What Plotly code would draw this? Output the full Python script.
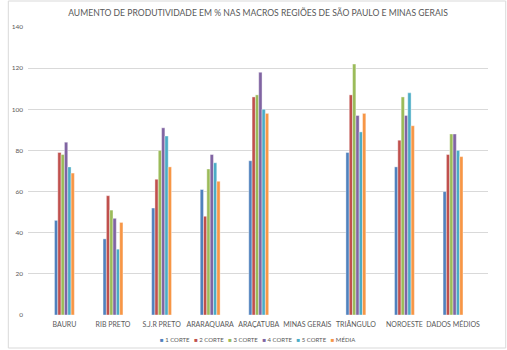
import plotly.graph_objects as go

categories = ["BAURU", "RIB PRETO", "S.J.R PRETO", "ARARAQUARA", "ARAÇATUBA",
              "MINAS GERAIS", "TRIÂNGULO", "NOROESTE", "DADOS MÉDIOS"]
series_names = ["1 CORTE", "2 CORTE", "3 CORTE", "4 CORTE", "5 CORTE", "MÉDIA"]
series_colors = ["#4F81BD", "#C0504D", "#9BBB59", "#8064A2", "#4BACC6", "#F79646"]

corte1 = [46, 37, 52, 61, 75, None, 79, 72, 60]
corte2 = [79, 58, 66, 48, 106, None, 107, 85, 78]
corte3 = [78, 51, 80, 71, 107, None, 122, 106, 88]
corte4 = [84, 47, 91, 78, 118, None, 97, 97, 88]
corte5 = [72, 32, 87, 74, 100, None, 89, 108, 80]
media = [69, 45, 72, 65, 98, None, 98, 92, 77]
series_values = [corte1, corte2, corte3, corte4, corte5, media]

y_ticks = [0, 20, 40, 60, 80, 100, 120, 140]

FONT = "Lato"
GREY = "#595959"

fig = go.Figure()
xpos = list(range(len(categories)))
for name, color, vals in zip(series_names, series_colors, series_values):
    fig.add_trace(go.Bar(
        x=xpos, y=vals, name=name,
        marker=dict(color=color, line=dict(color="rgba(255,255,255,0.8)", width=0.5)),
        showlegend=False,
    ))

# legend built as text from the series lists
legend_text = "&nbsp;&nbsp;&nbsp;".join(
    f'<span style="color:{c}">■</span> {n}' for n, c in zip(series_names, series_colors)
)

fig.update_layout(
    width=507, height=350,
    margin=dict(l=21, r=19, t=27, b=35),
    paper_bgcolor="white", plot_bgcolor="white",
    barmode="group", bargap=0.59, bargroupgap=0,
    font=dict(family=FONT, color=GREY),
    title=dict(
        text="AUMENTO DE PRODUTIVIDADE EM % NAS MACROS REGIÕES DE SÃO PAULO E MINAS GERAIS",
        x=0.5, xanchor="center", xref="paper", y=1 - 13 / 350, yanchor="middle",
        font=dict(family=FONT, size=8.6, color=GREY),
    ),
    xaxis=dict(
        range=[-0.75, 8.72], tickvals=xpos, ticktext=categories, tickangle=0,
        showgrid=False, zeroline=False, showline=False, ticks="",
        tickfont=dict(family=FONT, size=7, color=GREY), ticklabelstandoff=4,
    ),
    yaxis=dict(
        range=[0, 140], tickvals=y_ticks, showgrid=True, gridcolor="#D9D9D9",
        gridwidth=1, zeroline=False, showline=False, ticks="",
        tickfont=dict(family=FONT, size=6.5, color=GREY), ticklabelstandoff=4,
    ),
    annotations=[dict(
        text=legend_text, xref="paper", yref="paper",
        x=(254 - 21) / 467, y=(315 - 339) / 288, xanchor="center", yanchor="middle",
        showarrow=False, font=dict(family=FONT, size=6, color=GREY),
    )],
    shapes=[dict(
        type="rect", xref="paper", yref="paper",
        x0=(1 - 21) / 467, x1=(506 - 21) / 467,
        y0=(315 - 348) / 288, y1=(315 - 1) / 288,
        line=dict(color="#D9D9D9", width=1), fillcolor="rgba(0,0,0,0)", layer="below",
    )],
)

fig.write_html("out.html")
